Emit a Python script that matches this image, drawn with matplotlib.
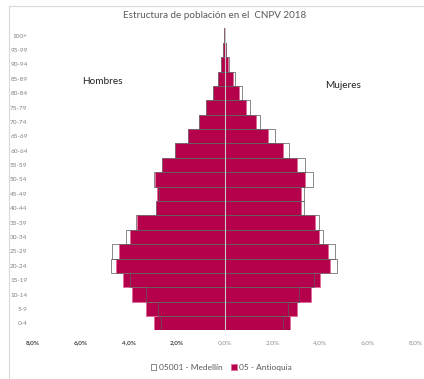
import matplotlib.pyplot as plt
from matplotlib.lines import Line2D
import numpy as np

plt.rcParams['font.family'] = ['Lato', 'DejaVu Sans']

grupos = ["0-4", "5-9", "10-14", "15-19", "20-24", "25-29", "30-34", "35-39",
          "40-44", "45-49", "50-54", "55-59", "60-64", "65-69", "70-74",
          "75-79", "80-84", "85-89", "90-94", "95-99", "100+"]

# % de la poblacion total
ant_hombres = [2.96, 3.26, 3.85, 4.26, 4.54, 4.40, 3.93, 3.65, 2.85, 2.82, 2.90,
               2.60, 2.05, 1.53, 1.08, 0.76, 0.49, 0.29, 0.14, 0.06, 0.01]
ant_mujeres = [2.75, 3.03, 3.61, 4.00, 4.42, 4.33, 3.93, 3.79, 3.19, 3.19, 3.38,
               3.03, 2.43, 1.82, 1.32, 0.90, 0.60, 0.35, 0.14, 0.06, 0.01]
med_hombres = [2.64, 2.80, 3.29, 3.95, 4.76, 4.69, 4.10, 3.68, 2.85, 2.74, 2.94,
               2.60, 2.05, 1.53, 1.08, 0.76, 0.49, 0.29, 0.13, 0.05, 0.01]
med_mujeres = [2.46, 2.64, 3.13, 3.76, 4.72, 4.63, 4.10, 3.93, 3.31, 3.33, 3.68,
               3.36, 2.71, 2.11, 1.50, 1.07, 0.72, 0.44, 0.18, 0.07, 0.01]

xticks = [-8, -6, -4, -2, 0, 2, 4, 6, 8]
xlabels = ["8,0%", "6,0%", "4,0%", "2,0%", "0,0%", "2,0%", "4,0%", "6,0%", "8,0%"]

crimson = "#B5004B"
y = np.arange(len(grupos))

fig = plt.figure(figsize=(4.24, 3.79), dpi=100)
ax = fig.add_axes([0.078, 0.128, 0.903, 0.797])

ax.barh(y, [-v for v in ant_hombres], height=1.0, color=crimson,
        edgecolor="#E06A98", linewidth=0.6, zorder=2, label="05 - Antioquia")
ax.barh(y, ant_mujeres, height=1.0, color=crimson,
        edgecolor="#E06A98", linewidth=0.6, zorder=2)
ax.barh(y, [-v for v in med_hombres], height=1.0, fill=False,
        edgecolor="#5a5a5a", linewidth=0.5, zorder=3, label="05001 - Medellín")
ax.barh(y, med_mujeres, height=1.0, fill=False,
        edgecolor="#5a5a5a", linewidth=0.5, zorder=3)

ax.axvline(0, color="#c8c8c8", linewidth=0.8, zorder=4)

ax.set_xlim(-8, 8)
ax.set_ylim(-0.5, len(grupos) - 0.5)
ax.set_yticks(y)
ax.set_yticklabels(grupos, fontsize=4.6, color="#808080")
ax.set_xticks(xticks)
ax.set_xticklabels(xlabels, fontsize=4.6)
for i, t in enumerate(ax.get_xticklabels()):
    if xticks[i] < 0:
        t.set_color("#404040")
        t.set_fontweight("bold")
    else:
        t.set_color("#8c8c8c")
ax.tick_params(axis="both", length=0)
ax.tick_params(axis="y", pad=4)
ax.tick_params(axis="x", pad=7)
for s in ax.spines.values():
    s.set_visible(False)

fig.text(0.506, 0.96, "Estructura de población en el  CNPV 2018",
         ha="center", va="center", fontsize=7.1, color="#595959")
fig.text(0.193, 0.785, "Hombres", ha="left", va="center", fontsize=7.2, color="#222222")
fig.text(0.766, 0.774, "Mujeres", ha="left", va="center", fontsize=7.2, color="#222222")

# borde del area del grafico (recortado a la derecha y abajo)
fig.add_artist(Line2D([9 / 424, 9 / 424], [0, 1 - 6 / 379], color="#d9d9d9", linewidth=0.8))
fig.add_artist(Line2D([9 / 424, 1], [1 - 6 / 379, 1 - 6 / 379], color="#d9d9d9", linewidth=0.8))

handles, labels = ax.get_legend_handles_labels()
leg = fig.legend(handles[::-1], labels[::-1], loc="center", bbox_to_anchor=(0.522, 0.03),
                 ncol=2, frameon=False, fontsize=6, handlelength=0.7, handleheight=0.7,
                 handletextpad=0.3, columnspacing=1.0)
for t in leg.get_texts():
    t.set_color("#595959")

fig.savefig("out.png", dpi=100)
